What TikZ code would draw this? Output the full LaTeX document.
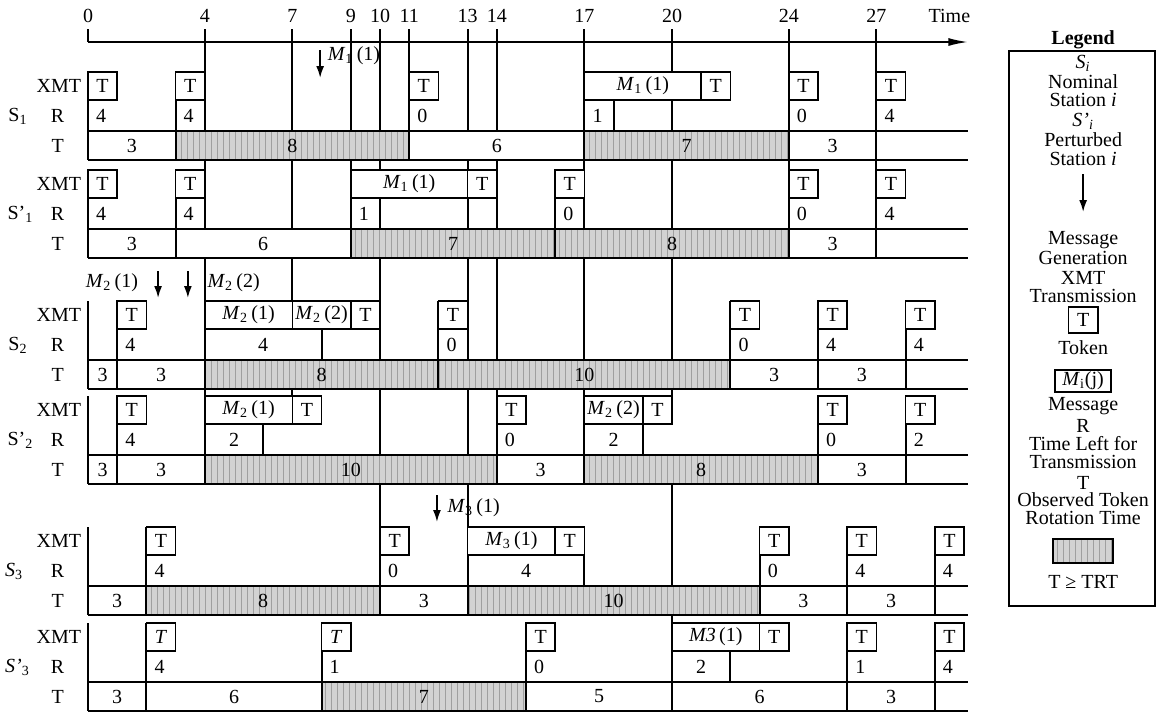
\documentclass[tikz,border=0pt]{standalone}
\usepackage{fontspec}
\setmainfont{Liberation Serif}
\usetikzlibrary{
    arrows.meta,
    patterns
}
\newcommand{\lbl}{\fontsize{10}{10}\selectfont}
\newcommand{\Mij}[2]{\textit{M}\textsubscript{#1}\,(#2)}
\tikzset{
  tokbox/.style = {draw, fill=white, line width=0.8pt, inner sep=0pt, outer sep=0pt,
                   anchor=north west, minimum width=14.6pt, minimum height=14pt, font=\lbl},
  msgbox/.style = {tokbox, minimum width=#1},
  val/.style    = {inner sep=0pt, font=\lbl},
  vline/.style  = {line width=1pt},
  hatch/.style  = {preaction={fill=gray!35}, pattern=vertical lines, pattern color=gray!75},
  gen/.style    = {-{Latex[length=6pt,width=4pt]}, line width=0.9pt}
}

\begin{document}
\begin{tikzpicture}[x=14.6pt, y=-0.5pt]
\useasboundingbox (-3.014,0) rectangle (36.678,714);
% shaded cells, T >= TRT
\fill[hatch] (3,131) rectangle (11,160) (17,131) rectangle (24,160);
\fill[hatch] (9,229) rectangle (24,258);
\fill[hatch] (4,360) rectangle (22,389);
\fill[hatch] (4,455) rectangle (14,484) (17,455) rectangle (25,484);
\fill[hatch] (2,586) rectangle (10,615) (13,586) rectangle (23,615);
\fill[hatch] (8,682) rectangle (15,711);
% time axis
\draw[vline, -{Latex[length=10pt,width=4pt]}] (0,42) -- (30.15,42);
\node[val] (t0) at (0,16) {0};   \node[val] (t4) at (4,16) {4};   \node[val] (t7) at (7,16) {7};
\node[val] (t9) at (9,16) {9};   \node[val] (t10) at (10,16) {10}; \node[val] (t11) at (11,16) {11};
\node[val] (t13) at (13,16) {13}; \node[val] (t14) at (14,16) {14}; \node[val] (t17) at (17,16) {17};
\node[val] (t20) at (20,16) {20}; \node[val] (t24) at (24,16) {24}; \node[val] (t27) at (27,16) {27};
\node[val] (time) at (29.5,16) {Time};
% T rows
\draw[vline] (0,131) -- (30.15,131) (0,160) -- (30.15,160)
             (0,229) -- (30.15,229) (0,258) -- (30.15,258)
             (0,360) -- (30.15,360) (0,389) -- (30.15,389)
             (0,455) -- (30.15,455) (0,484) -- (30.15,484)
             (0,586) -- (30.15,586) (0,615) -- (30.15,615)
             (0,682) -- (30.15,682) (0,711) -- (30.15,711);
% event lines
\draw[vline] (0,29) -- (0,42) (0,72) -- (0,160) (0,170) -- (0,258) (0,301) -- (0,389)
             (0,396) -- (0,484) (0,527) -- (0,615) (0,623) -- (0,711)
  (1,301) -- (1,389) (1,396) -- (1,484)
  (2,527) -- (2,615) (2,623) -- (2,711)
  (3,72) -- (3,160) (3,170) -- (3,258)
  (4,29) -- (4,131) (4,160) -- (4,229) (4,258) -- (4,484)
  (6,424) -- (6,455)
  (7,29) -- (7,131) (7,160) -- (7,229) (7,258) -- (7,329) (7,389) -- (7,424)
  (8,329) -- (8,360) (8,623) -- (8,711)
  (9,29) -- (9,131) (9,160) -- (9,258)
  (10,29) -- (10,131) (10,160) -- (10,229) (10,258) -- (10,360) (10,389) -- (10,455) (10,484) -- (10,615)
  (11,29) -- (11,160)
  (12,301) -- (12,389)
  (13,29) -- (13,131) (13,160) -- (13,229) (13,258) -- (13,360) (13,389) -- (13,455) (13,484) -- (13,615)
  (14,29) -- (14,131) (14,160) -- (14,229) (14,258) -- (14,360) (14,389) -- (14,484)
  (15,623) -- (15,711)
  (16,170) -- (16,258)
  (17,29) -- (17,229) (17,258) -- (17,360) (17,389) -- (17,484) (17,527) -- (17,586)
  (18,100) -- (18,131)
  (19,424) -- (19,455)
  (20,29) -- (20,131) (20,160) -- (20,229) (20,258) -- (20,360) (20,389) -- (20,424)
  (20,484) -- (20,586) (20,615) -- (20,711)
  (22,301) -- (22,389) (22,651) -- (22,682)
  (23,527) -- (23,615)
  (24,29) -- (24,258)
  (25,301) -- (25,389) (25,396) -- (25,484)
  (26,527) -- (26,615) (26,623) -- (26,711)
  (27,29) -- (27,258)
  (28,301) -- (28,389) (28,396) -- (28,484)
  (29,527) -- (29,615) (29,623) -- (29,711);

% S1
\node[val, anchor=west] (s1) at (-2.74,116) {S\textsubscript{1}};
\node[val] (s1x) at (-1,86) {XMT}; \node[val] (s1rl) at (-1.04,116) {R}; \node[val] (s1tl) at (-1.04,146) {T};
\node[tokbox] (s1a) at (0,72) {T};  \node[tokbox] (s1b) at (3,72) {T};  \node[tokbox] (s1c) at (11,72) {T};
\node[msgbox=58.4pt] (s1m) at (17,72) {\Mij{1}{1}};
\node[tokbox] (s1d) at (21,72) {T}; \node[tokbox] (s1e) at (24,72) {T}; \node[tokbox] (s1f) at (27,72) {T};
\node[val] (s1r1) at (0.45,116) {4};  \node[val] (s1r2) at (3.45,116) {4};  \node[val] (s1r3) at (11.45,116) {0};
\node[val] (s1r4) at (17.45,116) {1}; \node[val] (s1r5) at (24.45,116) {0}; \node[val] (s1r6) at (27.45,116) {4};
\node[val] (s1c1) at (1.5,146) {3};  \node[val] (s1c2) at (7,146) {8};    \node[val] (s1c3) at (14,146) {6};
\node[val] (s1c4) at (20.5,146) {7}; \node[val] (s1c5) at (25.5,146) {3};

% S'1
\node[val, anchor=west] (p1) at (-2.77,214) {S'\textsubscript{1}};
\node[val] (p1x) at (-1,184) {XMT}; \node[val] (p1rl) at (-1.04,214) {R}; \node[val] (p1tl) at (-1.04,243.5) {T};
\node[tokbox] (p1a) at (0,170) {T}; \node[tokbox] (p1b) at (3,170) {T};
\node[msgbox=58.4pt] (p1m) at (9,170) {\Mij{1}{1}};
\node[tokbox] (p1c) at (13,170) {T}; \node[tokbox] (p1d) at (16,170) {T};
\node[tokbox] (p1e) at (24,170) {T}; \node[tokbox] (p1f) at (27,170) {T};
\node[val] (p1r1) at (0.45,214) {4};  \node[val] (p1r2) at (3.45,214) {4};  \node[val] (p1r3) at (9.45,214) {1};
\node[val] (p1r4) at (16.45,214) {0}; \node[val] (p1r5) at (24.45,214) {0}; \node[val] (p1r6) at (27.45,214) {4};
\node[val] (p1c1) at (1.5,243.5) {3};  \node[val] (p1c2) at (6,243.5) {6};   \node[val] (p1c3) at (12.5,243.5) {7};
\node[val] (p1c4) at (20,243.5) {8};   \node[val] (p1c5) at (25.5,243.5) {3};

% S2
\node[val, anchor=west] (s2) at (-2.74,345) {S\textsubscript{2}};
\node[val] (s2x) at (-1,315) {XMT}; \node[val] (s2rl) at (-1.04,345) {R}; \node[val] (s2tl) at (-1.04,374.5) {T};
\node[tokbox] (s2a) at (1,301) {T};
\node[msgbox=43.8pt] (s2m) at (4,301) {\Mij{2}{1}};
\node[msgbox=29.2pt] (s2n) at (7,301) {\Mij{2}{2}};
\node[tokbox] (s2b) at (9,301) {T};  \node[tokbox] (s2c) at (12,301) {T}; \node[tokbox] (s2d) at (22,301) {T};
\node[tokbox] (s2e) at (25,301) {T}; \node[tokbox] (s2f) at (28,301) {T};
\node[val] (s2r1) at (1.45,345) {4};  \node[val] (s2r2) at (6,345) {4};      \node[val] (s2r3) at (12.45,345) {0};
\node[val] (s2r4) at (22.45,345) {0}; \node[val] (s2r5) at (25.45,345) {4}; \node[val] (s2r6) at (28.45,345) {4};
\node[val] (s2c1) at (0.5,374.5) {3}; \node[val] (s2c2) at (2.5,374.5) {3};  \node[val] (s2c3) at (8,374.5) {8};
\node[val] (s2c4) at (17,374.5) {10}; \node[val] (s2c5) at (23.5,374.5) {3}; \node[val] (s2c6) at (26.5,374.5) {3};

% S'2
\node[val, anchor=west] (p2) at (-2.77,440) {S'\textsubscript{2}};
\node[val] (p2x) at (-1,410) {XMT}; \node[val] (p2rl) at (-1.04,440) {R}; \node[val] (p2tl) at (-1.04,469.5) {T};
\node[tokbox] (p2a) at (1,396) {T};
\node[msgbox=43.8pt] (p2m) at (4,396) {\Mij{2}{1}};
\node[tokbox] (p2b) at (7,396) {T};  \node[tokbox] (p2c) at (14,396) {T};
\node[msgbox=29.2pt] (p2n) at (17,396) {\Mij{2}{2}};
\node[tokbox] (p2d) at (19,396) {T}; \node[tokbox] (p2e) at (25,396) {T}; \node[tokbox] (p2f) at (28,396) {T};
\node[val] (p2r1) at (1.45,440) {4};  \node[val] (p2r2) at (5,440) {2};      \node[val] (p2r3) at (14.45,440) {0};
\node[val] (p2r4) at (18,440) {2};    \node[val] (p2r5) at (25.45,440) {0}; \node[val] (p2r6) at (28.45,440) {2};
\node[val] (p2c1) at (0.5,469.5) {3}; \node[val] (p2c2) at (2.5,469.5) {3};  \node[val] (p2c3) at (9,469.5) {10};
\node[val] (p2c4) at (15.5,469.5) {3}; \node[val] (p2c5) at (21,469.5) {8}; \node[val] (p2c6) at (26.5,469.5) {3};

% S3
\node[val, anchor=west] (s3) at (-2.85,571) {\textit{S}\textsubscript{3}};
\node[val] (s3x) at (-1,541) {XMT}; \node[val] (s3rl) at (-1.04,571) {R}; \node[val] (s3tl) at (-1.04,600.5) {T};
\node[tokbox] (s3a) at (2,527) {T}; \node[tokbox] (s3b) at (10,527) {T};
\node[msgbox=43.8pt] (s3m) at (13,527) {\Mij{3}{1}};
\node[tokbox] (s3c) at (16,527) {T}; \node[tokbox] (s3d) at (23,527) {T};
\node[tokbox] (s3e) at (26,527) {T}; \node[tokbox] (s3f) at (29,527) {T};
\node[val] (s3r1) at (2.45,571) {4};  \node[val] (s3r2) at (10.45,571) {0}; \node[val] (s3r3) at (15,571) {4};
\node[val] (s3r4) at (23.45,571) {0}; \node[val] (s3r5) at (26.45,571) {4}; \node[val] (s3r6) at (29.45,571) {4};
\node[val] (s3c1) at (1,600.5) {3};   \node[val] (s3c2) at (6,600.5) {8};    \node[val] (s3c3) at (11.5,600.5) {3};
\node[val] (s3c4) at (18,600.5) {10}; \node[val] (s3c5) at (24.5,600.5) {3}; \node[val] (s3c6) at (27.5,600.5) {3};

% S'3
\node[val, anchor=west] (p3) at (-2.85,667) {\textit{S'}\textsubscript{3}};
\node[val] (p3x) at (-1,637) {XMT}; \node[val] (p3rl) at (-1.04,667) {R}; \node[val] (p3tl) at (-1.04,696.5) {T};
\node[tokbox] (p3a) at (2,623) {\textit{T}}; \node[tokbox] (p3b) at (8,623) {\textit{T}};
\node[tokbox] (p3c) at (15,623) {T};
\node[msgbox=43.8pt] (p3m) at (20,623) {\textit{M3}\,(1)};
\node[tokbox] (p3d) at (23,623) {T}; \node[tokbox] (p3e) at (26,623) {T}; \node[tokbox] (p3f) at (29,623) {T};
\node[val] (p3r1) at (2.45,667) {4};  \node[val] (p3r2) at (8.45,667) {1};  \node[val] (p3r3) at (15.45,667) {0};
\node[val] (p3r4) at (21,667) {2};    \node[val] (p3r5) at (26.45,667) {1}; \node[val] (p3r6) at (29.45,667) {4};
\node[val] (p3c1) at (1,696.5) {3};   \node[val] (p3c2) at (5,696.5) {6};    \node[val] (p3c3) at (11.5,696.5) {7};
\node[val] (p3c4) at (17.5,696.5) {5}; \node[val] (p3c5) at (23,696.5) {6};  \node[val] (p3c6) at (27.5,696.5) {3};

% message generation
\draw[gen] (7.95,50) -- (7.95,78);
\node[val, anchor=west] (gm1) at (8.2,56) {\Mij{1}{1}};
\draw[gen] (2.4,271) -- (2.4,298);
\draw[gen] (3.42,271) -- (3.42,298);
\node[val] (gm21) at (0.82,283) {\Mij{2}{1}};
\node[val, anchor=west] (gm22) at (4.08,283) {\Mij{2}{2}};
\draw[gen] (11.95,495) -- (11.95,522);
\node[val, anchor=west] (gm3) at (12.3,508) {\Mij{3}{1}};

% legend
\node[val, font=\lbl\bfseries] (leg) at (34.08,40) {Legend};
\draw[line width=0.8pt] (31.54,51) rectangle (36.54,606);
\node[val] (l1) at (34.08,63) {\textit{S}\textsubscript{\textit{i}}};
\node[val] (l2) at (34.08,82) {Nominal};
\node[val] (l3) at (34.08,100) {Station \textit{i}};
\node[val] (l4) at (34.08,121) {\textit{S'}\textsubscript{\textit{i}}};
\node[val] (l5) at (34.08,140) {Perturbed};
\node[val] (l6) at (34.08,159) {Station \textit{i}};
\draw[gen] (34.08,174) -- (34.08,212);
\node[val] (l7) at (34.08,240) {Message};
\node[val] (l8) at (34.08,258) {Generation};
\node[val] (l9) at (34.08,278) {XMT};
\node[val] (l10) at (34.08,296) {Transmission};
\node[tokbox, anchor=center, minimum height=13pt] (ltok) at (34.08,320) {T};
\node[val] (l11) at (34.08,348) {Token};
\node[tokbox, anchor=center, minimum width=28pt, minimum height=11pt] (lmsg) at (34.08,381) {\textit{M}\textsubscript{i}(j)};
\node[val] (l12) at (34.08,406) {Message};
\node[val] (l13) at (34.08,426) {R};
\node[val] (l14) at (34.08,444) {Time Left for};
\node[val] (l15) at (34.08,462) {Transmission};
\node[val] (l16) at (34.08,483) {T};
\node[val] (l17) at (34.08,500) {Observed Token};
\node[val] (l18) at (34.08,518) {Rotation Time};
\draw[hatch, line width=0.8pt] (33.05,539) rectangle (35.1,563);
\node[val] (l19) at (34.08,582) {T ≥ TRT};
\end{tikzpicture}
\end{document}
